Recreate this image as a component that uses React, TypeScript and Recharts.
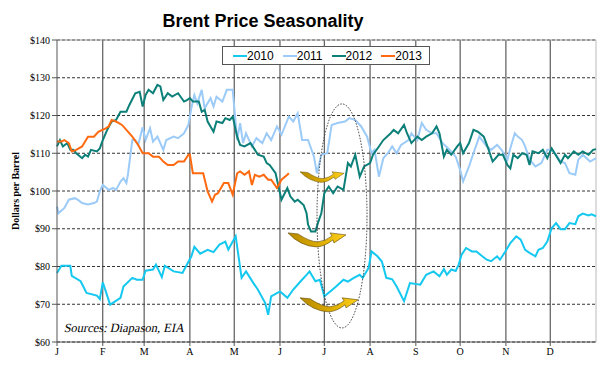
import { LineChart, Line, XAxis, YAxis, CartesianGrid, ReferenceLine, ReferenceDot } from 'recharts';

// day of year -> Brent price ($/bbl)
const days2010 = [0, 3, 9, 10, 16, 20, 27, 29, 31, 36, 43, 45, 51, 54, 58, 60, 65, 67, 71, 73, 79, 85, 87, 91, 93, 97, 102, 106, 110, 114, 116, 121, 125, 128, 133, 136, 141, 143, 145, 151, 156, 160, 165, 169, 171, 175, 178, 181, 185, 189, 194, 197, 201, 205, 207, 211, 213, 217, 220, 223, 227, 230, 235, 239, 246, 250, 255, 259, 262, 264, 267, 270, 272, 274, 277, 281, 284, 288, 291, 294, 298, 300, 303, 307, 311, 314, 317, 320, 324, 326, 329, 332, 335, 338, 341, 344, 347, 351, 353, 356, 360, 362, 365];
const prices2010 = [78.3, 80.2, 80.2, 77.5, 76.1, 73.0, 72.3, 71.4, 75.8, 69.9, 71.7, 74.7, 77.0, 76.5, 76.5, 78.9, 79.2, 80.5, 77.2, 80.2, 78.7, 78.3, 79.8, 82.7, 85.2, 83.4, 84.4, 83.8, 85.8, 86.6, 84.5, 88.0, 77.0, 78.7, 75.6, 73.9, 70.3, 67.2, 72.1, 73.4, 71.7, 73.9, 76.1, 77.8, 78.7, 76.1, 76.5, 72.1, 73.4, 74.7, 76.5, 76.0, 77.0, 77.8, 77.0, 79.6, 84.0, 82.7, 81.3, 77.0, 76.6, 74.7, 70.8, 75.6, 75.2, 77.8, 78.7, 77.4, 79.3, 77.8, 79.2, 78.8, 80.5, 83.1, 84.9, 84.0, 84.0, 82.7, 81.8, 81.4, 82.7, 81.8, 83.6, 86.2, 88.0, 87.1, 84.4, 83.6, 82.7, 84.4, 84.9, 86.6, 90.2, 91.5, 89.9, 89.9, 91.5, 91.2, 93.3, 94.0, 93.5, 93.8, 93.3];

const days2011 = [0, 1, 5, 8, 12, 14, 17, 21, 25, 27, 29, 31, 35, 38, 40, 43, 45, 47, 48, 51, 53, 55, 58, 60, 63, 65, 68, 72, 74, 79, 82, 86, 89, 91, 93, 95, 98, 100, 104, 106, 108, 112, 115, 119, 122, 124, 126, 128, 132, 135, 139, 142, 145, 149, 152, 157, 160, 163, 166, 170, 174, 176, 179, 183, 186, 190, 195, 198, 202, 206, 210, 213, 215, 218, 221, 224, 227, 230, 233, 238, 240, 244, 247, 250, 254, 257, 261, 266, 270, 273, 275, 279, 282, 286, 291, 294, 298, 301, 305, 307, 310, 312, 315, 317, 320, 324, 328, 332, 335, 338, 341, 344, 347, 351, 353, 356, 361, 365];
const prices2011 = [95.9, 94.1, 95.5, 97.7, 98.1, 97.7, 96.8, 96.4, 96.8, 97.2, 99.9, 101.6, 100.3, 100.8, 100.3, 102.5, 103.4, 102.1, 104.3, 113.5, 113.5, 112.2, 116.9, 113.5, 116.6, 113.1, 114.4, 110.9, 113.5, 114.4, 114.0, 115.3, 117.5, 122.0, 125.4, 123.2, 126.8, 121.9, 124.6, 122.4, 125.0, 123.7, 126.8, 126.8, 113.5, 118.0, 112.7, 115.3, 111.8, 114.0, 112.7, 115.3, 113.5, 117.1, 114.9, 119.7, 118.4, 120.6, 113.5, 113.5, 109.1, 104.7, 109.6, 110.0, 117.5, 118.0, 118.4, 119.3, 118.8, 117.1, 114.4, 110.0, 110.9, 103.8, 108.7, 110.0, 111.8, 110.0, 112.2, 113.5, 115.3, 113.5, 118.0, 116.2, 115.3, 115.3, 112.7, 110.9, 109.1, 105.6, 102.5, 106.5, 110.0, 114.4, 111.8, 110.9, 112.2, 110.9, 108.3, 111.3, 115.3, 114.4, 113.5, 111.8, 108.3, 106.5, 107.4, 110.9, 110.9, 109.6, 107.8, 107.4, 104.7, 104.3, 108.3, 109.6, 107.8, 108.7];

const days2012 = [0, 2, 4, 7, 9, 11, 13, 17, 19, 21, 23, 27, 29, 31, 34, 37, 40, 43, 47, 49, 53, 56, 58, 60, 62, 65, 68, 70, 72, 75, 78, 82, 86, 88, 90, 92, 96, 98, 100, 102, 106, 108, 112, 114, 117, 119, 122, 124, 127, 131, 134, 136, 140, 142, 144, 148, 150, 152, 156, 158, 161, 163, 167, 169, 170, 172, 175, 177, 179, 181, 184, 187, 190, 194, 197, 199, 202, 205, 208, 212, 214, 218, 221, 226, 228, 231, 235, 237, 240, 244, 247, 250, 254, 257, 259, 262, 264, 267, 271, 273, 275, 279, 282, 285, 289, 292, 295, 299, 302, 305, 307, 309, 312, 315, 318, 320, 322, 326, 329, 332, 335, 337, 341, 344, 346, 350, 353, 356, 360, 363, 365];
const prices2012 = [111.8, 113.5, 111.8, 112.7, 110.9, 110.9, 110.0, 108.7, 109.6, 109.1, 110.9, 110.5, 111.3, 113.5, 116.2, 118.4, 118.8, 121.0, 121.0, 122.8, 125.9, 126.3, 122.4, 125.4, 126.8, 125.9, 128.1, 127.7, 124.1, 125.9, 125.0, 125.9, 123.7, 124.1, 124.6, 123.7, 123.7, 121.0, 121.5, 118.4, 115.7, 118.4, 118.0, 119.3, 118.8, 119.7, 114.4, 112.2, 111.8, 112.7, 110.9, 109.6, 109.1, 107.4, 106.9, 104.7, 101.2, 97.7, 100.8, 98.6, 97.2, 97.7, 96.3, 94.1, 91.1, 89.3, 89.3, 91.9, 94.1, 99.4, 101.2, 99.4, 101.2, 100.3, 107.4, 106.5, 109.6, 103.8, 106.5, 107.4, 109.6, 111.8, 113.5, 115.3, 116.2, 115.3, 117.5, 115.3, 112.7, 114.4, 113.5, 114.4, 115.3, 117.1, 115.3, 109.1, 110.9, 109.6, 111.8, 112.7, 110.0, 112.7, 116.2, 115.7, 114.4, 111.3, 107.8, 109.6, 109.6, 106.9, 106.0, 109.6, 108.7, 110.0, 109.6, 106.9, 110.5, 110.0, 110.9, 108.7, 111.3, 110.0, 107.4, 109.6, 108.7, 110.5, 109.6, 110.5, 109.6, 110.9, 111.1];

const days2013 = [0, 3, 5, 8, 10, 13, 17, 21, 25, 28, 33, 35, 37, 40, 44, 47, 51, 55, 58, 62, 65, 69, 72, 75, 79, 82, 86, 89, 90, 92, 96, 99, 102, 105, 107, 109, 113, 116, 119, 122, 124, 127, 130, 132, 134, 137, 140, 143, 145, 149, 152, 156, 157];
const prices2013 = [113.1, 113.1, 113.5, 112.7, 110.5, 110.9, 111.8, 114.4, 114.4, 115.7, 116.6, 117.1, 118.8, 118.4, 117.5, 116.2, 114.4, 112.2, 110.0, 110.0, 109.1, 109.1, 107.8, 106.9, 106.9, 107.8, 107.8, 109.6, 109.6, 104.7, 104.7, 104.7, 99.9, 97.2, 99.0, 99.4, 102.1, 102.1, 99.0, 104.7, 105.2, 104.3, 105.2, 101.6, 104.3, 103.8, 104.3, 103.0, 103.0, 100.8, 103.0, 104.3, 104.7];

const monthStarts = [0, 31, 59, 90, 120, 151, 181, 212, 243, 273, 304, 334];
const monthLabels = ['J', 'F', 'M', 'A', 'M', 'J', 'J', 'A', 'S', 'O', 'N', 'D'];
const priceTicks = [60, 70, 80, 90, 100, 110, 120, 130, 140];

const toSeries = (days: number[], prices: number[]) =>
  days.map((day, i) => ({ day, price: prices[i] }));

const series = [
  { name: '2010', color: '#14c8f0', data: toSeries(days2010, prices2010) },
  { name: '2011', color: '#9ccbf8', data: toSeries(days2011, prices2011) },
  { name: '2012', color: '#0b7f78', data: toSeries(days2012, prices2012) },
  { name: '2013', color: '#ff6a10', data: toSeries(days2013, prices2013) },
];

const serif = 'Liberation Serif';
const sans = 'Liberation Sans';

const makeSwoosh = (id: string, scale: number) => (props: any) => {
  const { cx, cy } = props;
  if (cx == null || cy == null) return <g />;
  return (
    <g transform={`translate(${cx},${cy}) scale(${scale})`}>
      <defs>
        <linearGradient id={id} x1="0" y1="0" x2="1" y2="0">
          <stop offset="0%" stopColor="#b58a00" />
          <stop offset="50%" stopColor="#d9a800" />
          <stop offset="100%" stopColor="#ffd21a" />
        </linearGradient>
      </defs>
      <path
        d="M0,0 L10,1 Q22,9 30,9 Q38,8 44,3 L42,0 L58,2 L46,10 L45,7 Q36,14 28,14 Q12,13 0,0 Z"
        fill={`url(#${id})`}
        stroke="#5c4500"
        strokeWidth={0.6}
      />
    </g>
  );
};

const Ring = (props: any) => {
  const { cx, cy } = props;
  if (cx == null || cy == null) return <g />;
  return (
    <ellipse cx={cx} cy={cy} rx={25} ry={112} fill="none" stroke="#333" strokeWidth={1} strokeDasharray="1.5 1.5" />
  );
};

export default function App() {
  return (
    <div style={{ position: 'absolute', left: 0, top: 0, width: 610, height: 375, background: '#fff' }}>
      <div
        style={{
          position: 'absolute', left: 113, top: 12, width: 300, textAlign: 'center', whiteSpace: 'nowrap',
          fontFamily: sans, fontWeight: 'bold', fontSize: 18, lineHeight: '18px', color: '#000',
        }}
      >
        Brent Price Seasonality
      </div>

      <LineChart width={610} height={375} margin={{ top: 40, right: 14, bottom: 8, left: 12 }}>
        <CartesianGrid vertical={false} stroke="#333" strokeDasharray="3 2" />
        {monthStarts.slice(1).map(d => (
          <ReferenceLine key={d} x={d} stroke="#3a3a3a" strokeWidth={1} />
        ))}
        <ReferenceLine y={140} stroke="#999" />
        <ReferenceLine x={365} stroke="#bbb" />
        <XAxis
          type="number"
          dataKey="day"
          domain={[0, 365]}
          ticks={monthStarts}
          tickFormatter={(d: number) => monthLabels[monthStarts.indexOf(d)]}
          height={25}
          stroke="#555"
          tickSize={4}
          tick={{ fontFamily: serif, fontSize: 10, fill: '#000' }}
        />
        <YAxis
          type="number"
          domain={[60, 140]}
          ticks={priceTicks}
          tickFormatter={(v: number) => `$${v}`}
          width={45}
          stroke="#555"
          tickSize={5}
          tick={{ fontFamily: serif, fontSize: 10, fill: '#000' }}
        />
        {series.map(s => (
          <Line
            key={s.name}
            data={s.data}
            dataKey="price"
            name={s.name}
            type="linear"
            stroke={s.color}
            strokeWidth={2}
            dot={false}
            isAnimationActive={false}
          />
        ))}
        <ReferenceDot x={193} y={93.4} r={1} shape={Ring} />
        <ReferenceDot x={164.6} y={105.1} r={1} shape={makeSwoosh('sw1', 0.76)} />
        <ReferenceDot x={156.4} y={88.9} r={1} shape={makeSwoosh('sw2', 1.0)} />
        <ReferenceDot x={164.6} y={71.7} r={1} shape={makeSwoosh('sw3', 1.0)} />
      </LineChart>

      <div
        style={{
          position: 'absolute', left: 222, top: 46, width: 196, height: 17,
          border: '1px solid #555', background: '#fff', display: 'flex', alignItems: 'center',
          paddingLeft: 10, boxSizing: 'content-box', fontFamily: sans, fontSize: 12, color: '#000',
        }}
      >
        {series.map(s => (
          <div key={s.name} style={{ display: 'flex', alignItems: 'center', marginRight: 9 }}>
            <span style={{ display: 'inline-block', width: 14, height: 2, background: s.color }} />
            <span>{s.name}</span>
          </div>
        ))}
      </div>

      <div
        style={{
          position: 'absolute', left: -44, top: 185, width: 120, textAlign: 'center', whiteSpace: 'nowrap',
          transform: 'rotate(-90deg)', fontFamily: serif, fontWeight: 'bold', fontSize: 10,
          lineHeight: '12px', color: '#000',
        }}
      >
        Dollars per Barrel
      </div>

      {/* serif italic face may be missing, so slant the upright face instead */}
      <div
        style={{
          position: 'absolute', left: 63, top: 322, fontFamily: serif, fontStyle: 'normal',
          fontSize: 12.5, lineHeight: '13px', color: '#000', whiteSpace: 'nowrap',
          transform: 'skewX(-12deg)', transformOrigin: 'left bottom',
        }}
      >
        Sources: Diapason, EIA
      </div>
    </div>
  );
}
